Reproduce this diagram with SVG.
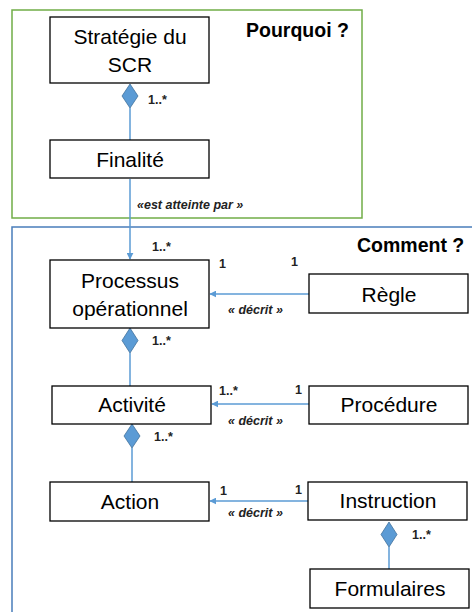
<svg xmlns="http://www.w3.org/2000/svg" width="472" height="612" viewBox="0 0 472 612">
  <style>
    .box { fill: #ffffff; stroke: #000000; stroke-width: 1.3; }
    .lbl { font-family: "Liberation Sans", Arial, sans-serif; font-size: 21px; fill: #000; text-anchor: middle; }
    .title { font-family: "Liberation Sans", Arial, sans-serif; font-size: 19.5px; font-weight: bold; fill: #000; }
    .mult { font-family: "Liberation Sans", Arial, sans-serif; font-size: 12.5px; font-weight: bold; fill: #222; }
    .stereo { font-family: "Liberation Sans", Arial, sans-serif; font-size: 12.5px; font-weight: bold; font-style: italic; fill: #222; }
    .link { stroke: #5b9bd5; stroke-width: 1.5; fill: none; }
    .diamond { fill: #5b9bd5; stroke: #41719c; stroke-width: 0.8; }
  </style>
  <defs>
    <marker id="arrow" viewBox="0 0 10 10" refX="9" refY="5" markerWidth="7" markerHeight="7" orient="auto" markerUnits="userSpaceOnUse">
      <path d="M0,0 L10,5 L0,10 Z" fill="#5b9bd5"/>
    </marker>
  </defs>

  <rect width="472" height="612" fill="#ffffff"/>

  <!-- frames -->
  <g id="frame-pourquoi">
    <rect x="12" y="10" width="350" height="208" fill="none" stroke="#70ad47" stroke-width="1.5"/>
    <text class="title" x="246" y="37">Pourquoi ?</text>
  </g>
  <g id="frame-comment">
    <path d="M12,614 L12,227 L474,227" fill="none" stroke="#4a7ebb" stroke-width="1.5"/>
    <text class="title" x="357" y="252">Comment ?</text>
  </g>

  <!-- connectors -->
  <g id="connectors">
    <line class="link" x1="130" y1="108" x2="130" y2="140"/>
    <line class="link" x1="130" y1="179" x2="130" y2="259" marker-end="url(#arrow)"/>
    <line class="link" x1="309" y1="294" x2="210" y2="294" marker-end="url(#arrow)"/>
    <line class="link" x1="130" y1="353" x2="130" y2="386"/>
    <line class="link" x1="309" y1="404" x2="212" y2="404" marker-end="url(#arrow)"/>
    <line class="link" x1="132" y1="448" x2="132" y2="482" stroke="#8a8a8a"/>
    <line class="link" x1="309" y1="501" x2="210" y2="501" marker-end="url(#arrow)"/>
    <line class="link" x1="389" y1="547" x2="389" y2="569"/>

    <polygon class="diamond" points="130,84 138,96 130,108 122,96"/>
    <polygon class="diamond" points="130,328 138,340.5 130,353 122,340.5"/>
    <polygon class="diamond" points="132,424 140,436 132,448 124,436"/>
    <polygon class="diamond" points="389,522 397,534.5 389,547 381,534.5"/>

    <text class="mult" x="148" y="104">1..*</text>
    <text class="stereo" x="137" y="209">«est atteinte par »</text>
    <text class="mult" x="152" y="251">1..*</text>
    <text class="mult" x="219" y="268">1</text>
    <text class="mult" x="291" y="266">1</text>
    <text class="stereo" x="228" y="314">« décrit »</text>
    <text class="mult" x="152" y="345">1..*</text>
    <text class="mult" x="219" y="395">1..*</text>
    <text class="mult" x="295" y="394">1</text>
    <text class="stereo" x="228" y="425">« décrit »</text>
    <text class="mult" x="154" y="441">1..*</text>
    <text class="mult" x="220" y="495">1</text>
    <text class="mult" x="295" y="494">1</text>
    <text class="stereo" x="228" y="517">« décrit »</text>
    <text class="mult" x="412" y="539">1..*</text>
  </g>

  <!-- nodes -->
  <g id="strategie">
    <rect class="box" x="50" y="17" width="159" height="66"/>
    <text class="lbl" x="130" y="44">Stratégie du</text>
    <text class="lbl" x="130" y="72">SCR</text>
  </g>
  <g id="finalite">
    <rect class="box" x="50" y="140" width="159" height="38"/>
    <text class="lbl" x="130" y="167">Finalité</text>
  </g>
  <g id="processus">
    <rect class="box" x="50" y="260" width="159" height="68"/>
    <text class="lbl" x="130" y="288">Processus</text>
    <text class="lbl" x="130" y="316">opérationnel</text>
  </g>
  <g id="regle">
    <rect class="box" x="309" y="274" width="159" height="39"/>
    <text class="lbl" x="389" y="302">Règle</text>
  </g>
  <g id="activite">
    <rect class="box" x="52" y="386" width="159" height="38"/>
    <text class="lbl" x="132" y="412">Activité</text>
  </g>
  <g id="procedure">
    <rect class="box" x="309" y="386" width="159" height="38"/>
    <text class="lbl" x="389" y="412">Procédure</text>
  </g>
  <g id="action">
    <rect class="box" x="50" y="482" width="159" height="39"/>
    <text class="lbl" x="130" y="509">Action</text>
  </g>
  <g id="instruction">
    <rect class="box" x="308" y="482" width="159" height="38"/>
    <text class="lbl" x="388" y="508">Instruction</text>
  </g>
  <g id="formulaires">
    <rect class="box" x="310" y="569" width="159" height="39"/>
    <text class="lbl" x="390" y="596">Formulaires</text>
  </g>
</svg>
